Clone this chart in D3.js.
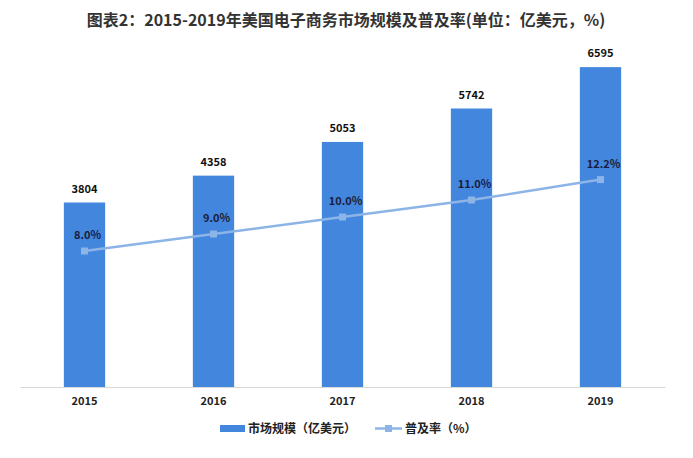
<!DOCTYPE html>
<html><head><meta charset="utf-8">
<script src="https://cdn.jsdelivr.net/npm/d3@7"></script>
<style>body{margin:0;background:#fff;}svg{display:block;}</style>
</head><body>
<script>
const years = ["2015","2016","2017","2018","2019"];
const marketSize = [3804, 4358, 5053, 5742, 6595];
const penetration = [8.0, 9.0, 10.0, 11.0, 12.2];
const titleText = "图表2：2015-2019年美国电子商务市场规模及普及率(单位：亿美元，%)";
const seriesNames = ["市场规模（亿美元）", "普及率（%）"];

const W = 693, H = 458;
const font = "'Noto Sans CJK SC', 'Liberation Sans', sans-serif";
const svg = d3.select("body").append("svg").attr("width", W).attr("height", H);

const x = d3.scaleBand().domain(years).range([20, 665]).paddingInner(0.68).paddingOuter(0.34);
const y = d3.scaleLinear().domain([0, 7000]).range([387, 47.5]);
const y2 = d3.scaleLinear().domain([0, 20]).range([387, 47]);

svg.append("text").attr("x", 346).attr("y", 26).attr("text-anchor", "middle")
  .attr("font-family", font).attr("font-weight", "bold").attr("font-size", 16)
  .attr("fill", "#333").text(titleText);

// bars
svg.selectAll("rect.bar").data(marketSize).enter().append("rect")
  .attr("x", (d, i) => x(years[i])).attr("width", x.bandwidth())
  .attr("y", d => y(d)).attr("height", d => y(0) - y(d)).attr("fill", "#4286de");

// axis
const xAxis = svg.append("g").attr("transform", "translate(0,387)").call(d3.axisBottom(x).tickSize(0).tickPadding(10));
xAxis.select(".domain").attr("stroke", "#d9d9d9").attr("stroke-width", 1);
xAxis.selectAll("text").attr("font-family", font).attr("font-weight", "bold").attr("font-size", 11).attr("fill", "#222");

// bar labels
svg.selectAll("text.bl").data(marketSize).enter().append("text")
  .attr("x", (d, i) => x(years[i]) + x.bandwidth() / 2).attr("y", d => y(d) - 10)
  .attr("text-anchor", "middle").attr("font-family", font).attr("font-weight", "bold")
  .attr("font-size", 11).attr("fill", "#111").text(d => d);

// line
const cx = i => x(years[i]) + x.bandwidth() / 2;
const line = d3.line().x((d, i) => cx(i)).y(d => y2(d));
svg.append("path").datum(penetration).attr("d", line).attr("fill", "none")
  .attr("stroke", "#8db4e6").attr("stroke-width", 2.5);
svg.selectAll("rect.mk").data(penetration).enter().append("rect")
  .attr("x", (d, i) => cx(i) - 3.5).attr("y", d => y2(d) - 3.5).attr("width", 7).attr("height", 7)
  .attr("fill", "#8db4e6");
svg.selectAll("text.ll").data(penetration).enter().append("text")
  .attr("x", (d, i) => cx(i) + 3).attr("y", d => y2(d) - 12)
  .attr("text-anchor", "middle").attr("font-family", font).attr("font-weight", "bold")
  .attr("font-size", 11).attr("fill", "#1c1c3c").text(d => d.toFixed(1) + "%");

// legend
const lg = svg.append("g");
lg.append("rect").attr("x", 220).attr("y", 425).attr("width", 25).attr("height", 7).attr("fill", "#4286de");
lg.append("text").attr("x", 248).attr("y", 433).attr("font-family", font).attr("font-weight", "bold")
  .attr("font-size", 12).attr("fill", "#222").text(seriesNames[0]);
lg.append("line").attr("x1", 375).attr("x2", 402).attr("y1", 428.5).attr("y2", 428.5)
  .attr("stroke", "#8db4e6").attr("stroke-width", 2.5);
lg.append("rect").attr("x", 385).attr("y", 425).attr("width", 7).attr("height", 7).attr("fill", "#8db4e6");
lg.append("text").attr("x", 405).attr("y", 433).attr("font-family", font).attr("font-weight", "bold")
  .attr("font-size", 12).attr("fill", "#222").text(seriesNames[1]);
</script>
</body></html>
